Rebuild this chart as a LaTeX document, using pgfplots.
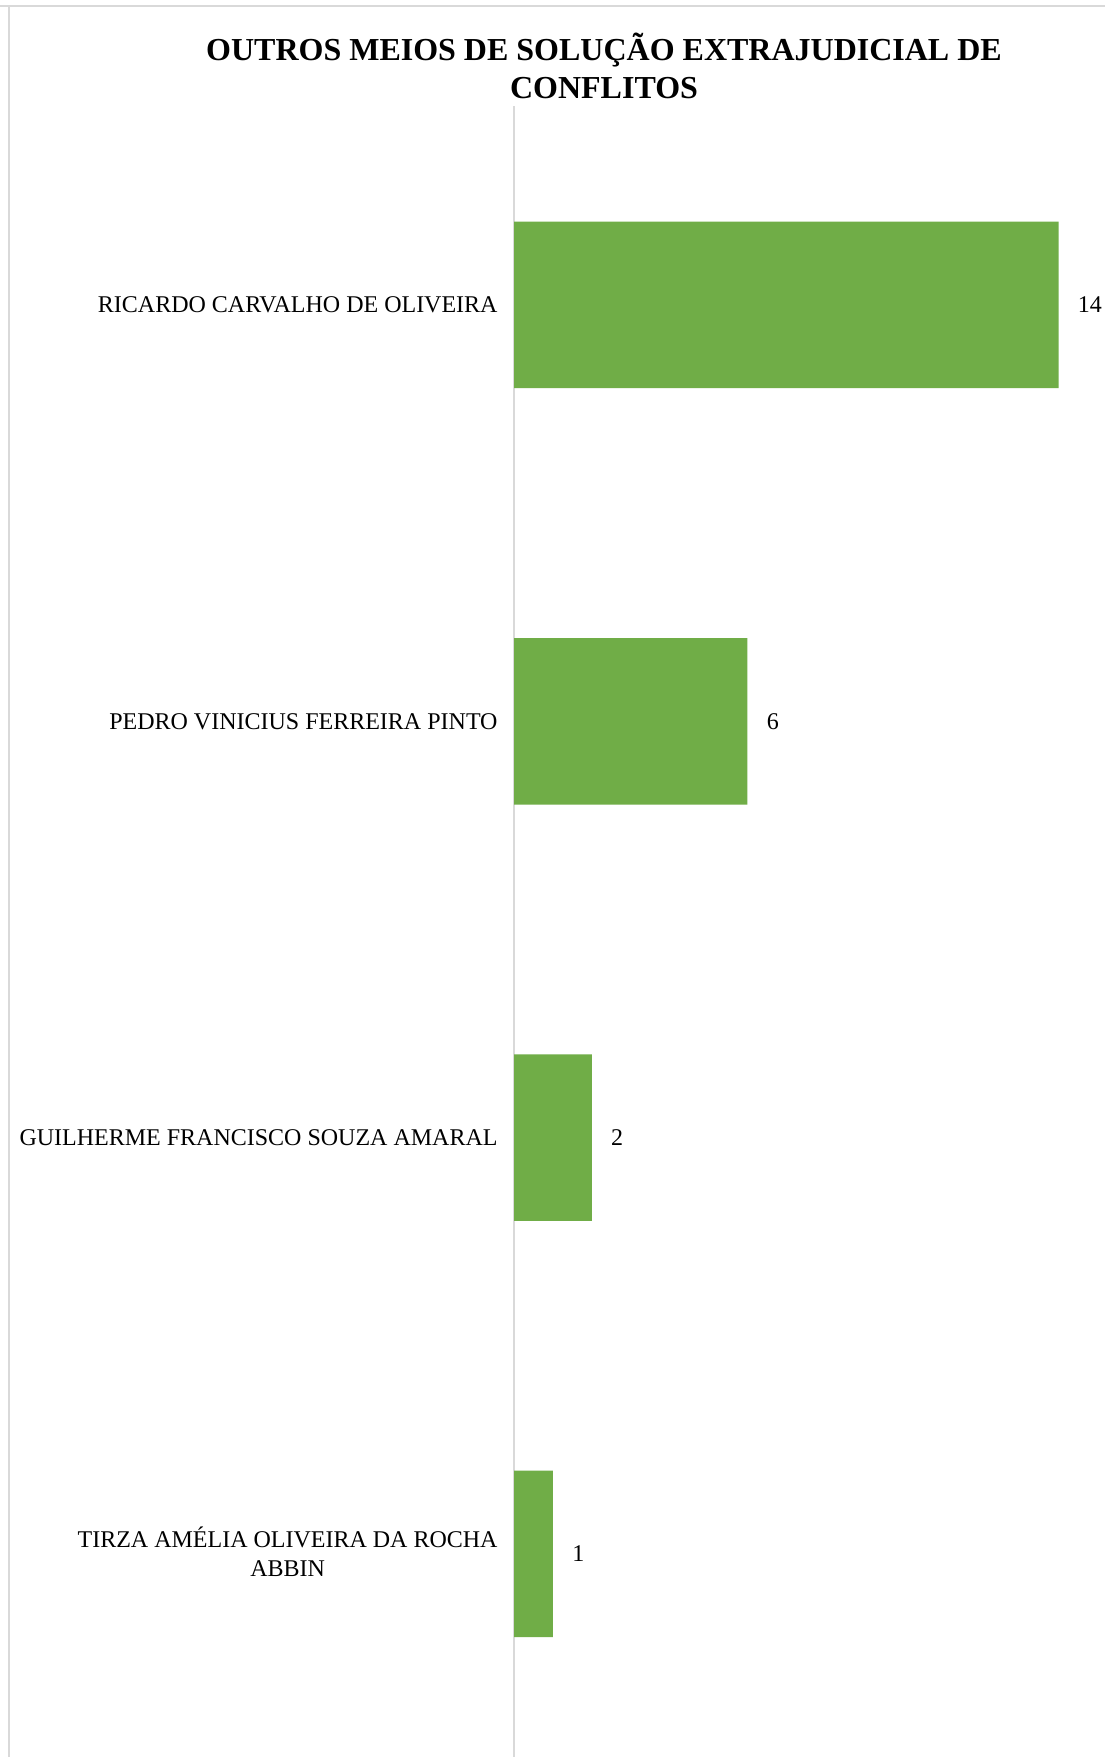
\documentclass[border=0pt]{standalone}
\usepackage{pgfplots}
\pgfplotsset{compat=1.18}
\usepackage{fontspec}
\setmainfont{Liberation Serif}
\definecolor{barg}{HTML}{70AD47}
\definecolor{axg}{HTML}{D9D9D9}
\begin{document}
\begin{tikzpicture}
\useasboundingbox (0bp,0bp) rectangle (552.5bp,-878.5bp);
\fill[white] (0bp,0bp) rectangle (552.5bp,-878.5bp);
\draw[axg, line width=1bp] (0bp,-2.85bp) -- (552.5bp,-2.85bp);
\draw[axg, line width=1bp] (4.5bp,-2.85bp) -- (4.5bp,-878.5bp);
\node[font=\bfseries\fontsize{16bp}{19bp}\selectfont, anchor=base, inner sep=0pt] at (302bp,-30.3bp) {OUTROS MEIOS DE SOLUÇÃO EXTRAJUDICIAL DE};
\node[font=\bfseries\fontsize{16bp}{19bp}\selectfont, anchor=base, inner sep=0pt] at (302bp,-49.3bp) {CONFLITOS};
\begin{axis}[
  at={(257bp,-53bp)}, anchor=north west,
  scale only axis, width=295.6bp, height=825.5bp,
  xbar, bar width=0.4,
  xmin=0, xmax=15.2, ymin=-0.488, ymax=3.478,
  axis x line=none, axis y line*=left,
  y axis line style={draw=axg, line width=1bp, -},
  ytick={0,1,2,3},
  yticklabels={{\raisebox{-0.9bp}[\height][\depth]{\begin{tabular}{@{}c@{}}TIRZA AMÉLIA OLIVEIRA DA ROCHA\\ABBIN\end{tabular}}},{GUILHERME FRANCISCO SOUZA AMARAL},{PEDRO VINICIUS FERREIRA PINTO},{RICARDO CARVALHO DE OLIVEIRA}},
  ytick style={draw=none}, major tick length=0pt,
  yticklabel style={font=\fontsize{12bp}{14.5bp}\selectfont, inner sep=0pt, xshift=-8bp},
  /pgf/number format/assume math mode=true,
  point meta=x,
  nodes near coords,
  nodes near coords style={font=\fontsize{12bp}{14.5bp}\selectfont, anchor=west, inner sep=0pt, xshift=9.5bp, text=black},
  clip=false,
]
\addplot[fill=barg, draw=none] coordinates {(1,0) (2,1) (6,2) (14,3)};
\end{axis}
\end{tikzpicture}
\end{document}
